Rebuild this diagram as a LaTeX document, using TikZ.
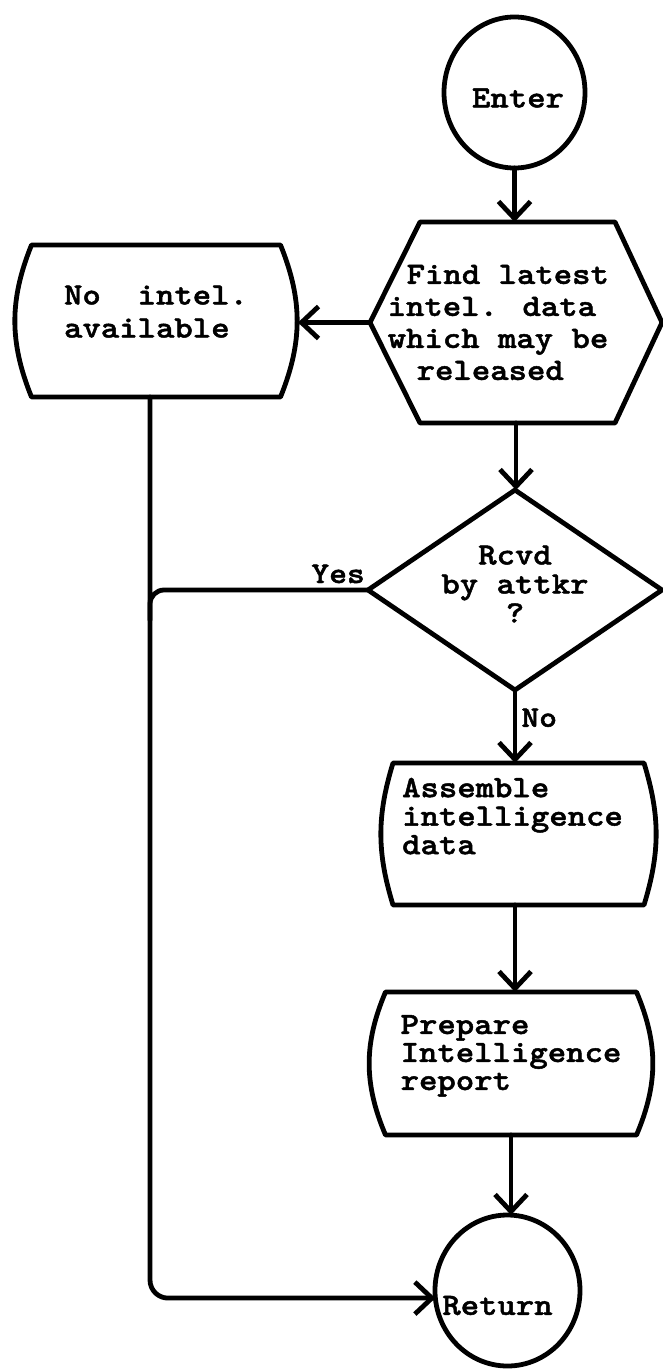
\documentclass[tikz,border=0pt]{standalone}
\usepackage{fontspec}
\newfontfamily\tw{lmmonolt10-bold}[Extension=.otf, FakeBold=1.5, FakeStretch=1.13]
\usetikzlibrary{shapes.geometric,arrows.meta}
\begin{document}
\begin{tikzpicture}[x=1pt,y=-1pt,
  ln/.style={line width=4.8pt, line cap=round, line join=round},
  arr/.style={ln, -{Straight Barb[length=17pt,width=32pt]}},
  blk/.style={inner sep=0pt, outer sep=0pt},
  txt/.style={font=\tw\fontsize{31}{#1}\selectfont},
  lbl/.style={font=\tw\fontsize{30}{30}\selectfont, inner sep=0pt}]
\useasboundingbox[fill=white] (0,0) rectangle (663,1371);

% Enter
\node[ellipse, draw, ln, blk, minimum width=141pt, minimum height=151pt, txt=30] (ent) at (514.5,92.5)
  {\makebox[0pt]{\rule{7pt}{0pt}\rule{0pt}{30pt}Enter}};

% Hexagon
\node[blk, minimum width=292pt, minimum height=201pt, align=left, txt=32] (hex) at (516,322.5)
  {\rule{19pt}{0pt}Find latest\\intel. data\\which may be\rule{36pt}{0pt}\\\rule{29pt}{0pt}released};
\draw[ln] (hex.west) -- ([xshift=50pt]hex.north west) -- ([xshift=-47pt]hex.north east) -- (hex.east)
  -- ([xshift=-47pt]hex.south east) -- ([xshift=50pt]hex.south west) -- cycle;

% No intel available
\node[blk, minimum width=284pt, minimum height=152pt, align=left, txt=33] (noi) at (156,321)
  {No\rule{36.75pt}{0pt}intel.\\available\rule[-19pt]{0pt}{19pt}};
\draw[ln] ([xshift=17.5pt]noi.north west) -- ([xshift=-17.5pt]noi.north east)
  to[bend left=22] ([xshift=-17.5pt]noi.south east) -- ([xshift=17.5pt]noi.south west)
  to[bend left=22] ([xshift=17.5pt]noi.north west) -- cycle;

% Decision
\node[blk, minimum width=294pt, minimum height=200pt, align=center, txt=29] (dia) at (515,590)
  {Rcvd\\by attkr\\?\rule[-12pt]{0pt}{12pt}};
\draw[ln] (dia.north) -- (dia.east) -- (dia.south) -- (dia.west) -- cycle;

% Assemble
\node[blk, minimum width=275pt, minimum height=142pt, align=left, txt=28.5] (asm) at (518.5,834)
  {Assemble\\intelligence\rule{12pt}{0pt}\\data\rule[-36pt]{0pt}{36pt}};
\draw[ln] ([xshift=12pt]asm.north west) -- ([xshift=-12pt]asm.north east)
  to[bend left=17] ([xshift=-12pt]asm.south east) -- ([xshift=12pt]asm.south west)
  to[bend left=17] ([xshift=12pt]asm.north west) -- cycle;

% Prepare
\node[blk, minimum width=284pt, minimum height=143pt, align=left, txt=28] (prep) at (511,1063.5)
  {Prepare\\Intelligence\\report\rule[-22pt]{0pt}{22pt}};
\draw[ln] ([xshift=16.5pt]prep.north west) -- ([xshift=-16.5pt]prep.north east)
  to[bend left=23] ([xshift=-16.5pt]prep.south east) -- ([xshift=16.5pt]prep.south west)
  to[bend left=23] ([xshift=16.5pt]prep.north west) -- cycle;

% Return
\node[ellipse, draw, ln, blk, minimum width=145pt, minimum height=151pt, txt=30] (ret) at (507.5,1290.5)
  {\makebox[0pt]{\rule{0pt}{49pt}Return\rule{20pt}{0pt}}};

% connectors
\draw[arr] (ent.south) -- (ent.south |- hex.north);
\draw[arr] (hex.west) -- (hex.west -| noi.east);
\draw[arr] (hex.south) -- (hex.south |- dia.north);
\draw[arr] (dia.south) -- node[lbl, pos=0.38, anchor=west, xshift=4pt] (no) {No} (dia.south |- asm.north);
\draw[arr] (dia.south |- asm.south) -- (dia.south |- prep.north);
\draw[arr] (prep.south) -- (prep.south |- ret.north);
\coordinate (vx) at ([xshift=-6pt]noi.south);
\draw[arr, rounded corners=18pt] (vx) |- (ret.186);
\draw[ln, rounded corners=14pt] (dia.west) -- (dia.west -| vx) -- ++(0,30);
\node[lbl, anchor=base east] (yes) at ([xshift=-3pt,yshift=7pt]dia.west) {Yes};
\end{tikzpicture}
\end{document}
